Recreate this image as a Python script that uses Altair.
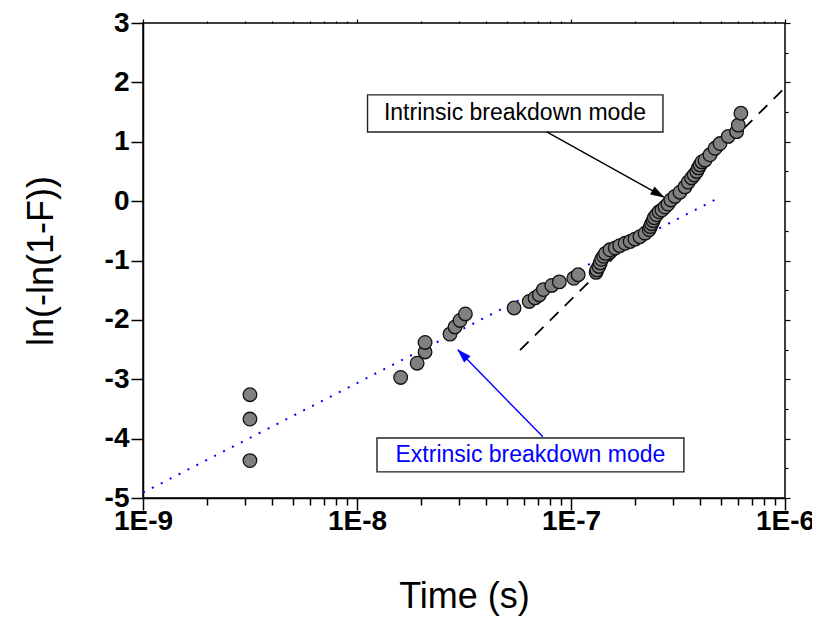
import altair as alt
import pandas as pd

# ---- data ----
time_s = [3.16e-9, 3.16e-9, 3.16e-9, 1.60e-8, 1.91e-8, 2.08e-8, 2.08e-8, 2.72e-8, 2.87e-8, 3.03e-8, 3.21e-8,
          5.42e-8, 6.38e-8, 6.79e-8, 7.11e-8, 7.43e-8, 8.13e-8, 8.82e-8, 1.03e-7, 1.08e-7,
          1.31e-7, 1.32e-7, 1.35e-7, 1.37e-7, 1.39e-7, 1.42e-7, 1.45e-7, 1.52e-7, 1.61e-7, 1.69e-7,
          1.79e-7, 1.89e-7, 1.99e-7, 2.10e-7, 2.22e-7, 2.32e-7, 2.35e-7, 2.38e-7, 2.42e-7, 2.45e-7,
          2.51e-7, 2.58e-7, 2.66e-7, 2.75e-7, 2.84e-7, 2.93e-7, 3.06e-7, 3.23e-7, 3.41e-7, 3.53e-7,
          3.66e-7, 3.76e-7, 3.87e-7, 3.94e-7, 4.01e-7, 4.09e-7, 4.23e-7, 4.46e-7, 4.71e-7, 4.97e-7,
          5.43e-7, 5.94e-7, 6.05e-7, 6.22e-7]
weibull = [-3.26, -3.67, -4.37, -2.97, -2.73, -2.54, -2.38, -2.24, -2.12, -2.01, -1.90,
           -1.80, -1.69, -1.63, -1.58, -1.49, -1.42, -1.36, -1.30, -1.24,
           -1.20, -1.16, -1.10, -1.04, -0.98, -0.93, -0.88, -0.82, -0.79, -0.75,
           -0.71, -0.68, -0.64, -0.60, -0.54, -0.48, -0.43, -0.38, -0.33, -0.28,
           -0.23, -0.18, -0.15, -0.10, -0.05, 0.02, 0.08, 0.15, 0.24, 0.32,
           0.39, 0.44, 0.50, 0.56, 0.61, 0.66, 0.69, 0.78, 0.89, 0.97,
           1.09, 1.17, 1.28, 1.48]

extr_fit_t = [1e-9, 4.81e-7]
extr_fit_y = [-4.91, 0.04]
intr_fit_t = [5.78e-8, 1e-6]
intr_fit_y = [-2.51, 1.91]

# annotations (data coordinates)
intr_label = "Intrinsic breakdown mode"
intr_box_t = [1.12e-8, 2.69e-7]
intr_box_y = [1.165, 1.79]
intr_text_at = (5.47e-8, 1.48)
intr_arrow_t = [7.70e-8, 2.72e-7]
intr_arrow_y = [1.165, 0.066]

extr_label = "Extrinsic breakdown mode"
extr_box_t = [1.24e-8, 3.37e-7]
extr_box_y = [-4.56, -3.99]
extr_text_at = (6.46e-8, -4.275)
extr_arrow_t = [7.39e-8, 2.96e-8]
extr_arrow_y = [-3.97, -2.505]

x_ticks = [m * 10.0 ** e for e in (-9, -8, -7) for m in range(1, 10)] + [1e-6]
y_ticks = [-5 + 0.5 * i for i in range(17)]

FONT = "Liberation Sans"
XMAJ = "abs(log(datum.value)/LN10 - round(log(datum.value)/LN10)) < 0.01"
YMAJ = "abs(datum.value - round(datum.value)) < 0.01"

xs = alt.Scale(type="log", domain=[1e-9, 1e-6], nice=False)
ys = alt.Scale(domain=[-5, 3], nice=False)

x_axis = alt.Axis(
    values=x_ticks, title="Time (s)", grid=False,
    labelExpr=f"{XMAJ} ? '1E' + toString(round(log(datum.value)/LN10)) : ''",
    labelFont=FONT, labelFontWeight="bold", labelFontSize=28, labelColor="black",
    labelOverlap=False, labelFlush=False, labelPadding=-3,
    titleFont=FONT, titleFontSize=36, titleFontWeight="normal", titleColor="black", titlePadding=44,
    tickSize={"condition": {"test": XMAJ, "value": 12}, "value": 7},
    tickColor="black", tickWidth=1.5, domainColor="black", domainWidth=1.5,
)
y_axis = alt.Axis(
    values=y_ticks, title="ln(-ln(1-F))", grid=False,
    labelExpr=f"{YMAJ} ? toString(round(datum.value)) : ''",
    labelFont=FONT, labelFontWeight="bold", labelFontSize=28, labelColor="black",
    labelOverlap=False, labelFlush=False, labelPadding=2,
    titleFont=FONT, titleFontSize=36, titleFontWeight="normal", titleColor="black", titlePadding=44,
    tickSize={"condition": {"test": YMAJ, "value": 12}, "value": 8},
    tickColor="black", tickWidth=1.5, domainColor="black", domainWidth=1.5,
)

pts = pd.DataFrame({"t": time_s, "y": weibull})
extr_df = pd.DataFrame({"t": extr_fit_t, "y": extr_fit_y})
intr_df = pd.DataFrame({"t": intr_fit_t, "y": intr_fit_y})

extr_line = alt.Chart(extr_df).mark_line(color="#0000ff", strokeWidth=2, strokeDash=[2, 8]).encode(
    x=alt.X("t:Q", scale=xs, axis=x_axis), y=alt.Y("y:Q", scale=ys, axis=y_axis))
intr_line = alt.Chart(intr_df).mark_line(color="black", strokeWidth=1.8, strokeDash=[12, 9]).encode(
    x=alt.X("t:Q", scale=xs), y=alt.Y("y:Q", scale=ys))

points = alt.Chart(pts).mark_point(shape="circle", filled=True, fill="#808080", stroke="#111111",
                                   strokeWidth=1.3, size=185, opacity=1).encode(
    x=alt.X("t:Q", scale=xs), y=alt.Y("y:Q", scale=ys))

def box(tb, yb, label, at, color):
    bdf = pd.DataFrame({"t": [tb[0]], "t2": [tb[1]], "y": [yb[0]], "y2": [yb[1]]})
    r = alt.Chart(bdf).mark_rect(fill="white", stroke="#222222", strokeWidth=1.4).encode(
        x=alt.X("t:Q", scale=xs), x2="t2:Q", y=alt.Y("y:Q", scale=ys), y2="y2:Q")
    tdf = pd.DataFrame({"t": [at[0]], "y": [at[1]], "label": [label]})
    tx = alt.Chart(tdf).mark_text(font=FONT, fontSize=23, color=color, align="center", baseline="middle").encode(
        x=alt.X("t:Q", scale=xs), y=alt.Y("y:Q", scale=ys), text="label:N")
    return r + tx

def arrow(tt, yy, color, angle):
    ldf = pd.DataFrame({"t": tt, "y": yy})
    ln = alt.Chart(ldf).mark_line(color=color, strokeWidth=1.4).encode(
        x=alt.X("t:Q", scale=xs), y=alt.Y("y:Q", scale=ys))
    hdf = pd.DataFrame({"t": [tt[1]], "y": [yy[1]]})
    hd = alt.Chart(hdf).mark_point(shape="M0,0L-1,-0.32L-1,0.32Z", filled=True, fill=color, stroke=color,
                                   strokeWidth=0.5, size=700, angle=angle, opacity=1).encode(
        x=alt.X("t:Q", scale=xs), y=alt.Y("y:Q", scale=ys))
    return ln + hd

frame = alt.Chart(pts).mark_point(opacity=0).encode(
    x=alt.X("t:Q", scale=xs, axis=alt.Axis(orient="top", values=x_ticks, labels=False, title=None, domain=False,
                                           grid=False, tickColor="black", tickWidth=1.2,
                                           tickSize={"condition": {"test": XMAJ, "value": 4}, "value": 2})),
    y=alt.Y("y:Q", scale=ys, axis=alt.Axis(orient="right", values=y_ticks, labels=False, title=None, domain=False,
                                           grid=False, tickColor="black", tickWidth=1.2,
                                           tickSize={"condition": {"test": YMAJ, "value": 5}, "value": 3})),
)

main = alt.layer(
    extr_line, intr_line, points,
    box(intr_box_t, intr_box_y, intr_label, intr_text_at, "black"),
    arrow(intr_arrow_t, intr_arrow_y, "black", 30),
    box(extr_box_t, extr_box_y, extr_label, extr_text_at, "#0000ff"),
    arrow(extr_arrow_t, extr_arrow_y, "#0000ff", 225),
)

chart = alt.layer(main, frame).resolve_axis(x="independent", y="independent").properties(
    width=642, height=475,
    autosize=alt.AutoSizeParams(type="none"),
    padding={"left": 135, "top": 15, "right": 27, "bottom": 125},
).configure_view(stroke="black", strokeWidth=1.5)

chart.save("out.html", embed_options={"renderer": "svg", "actions": False})
